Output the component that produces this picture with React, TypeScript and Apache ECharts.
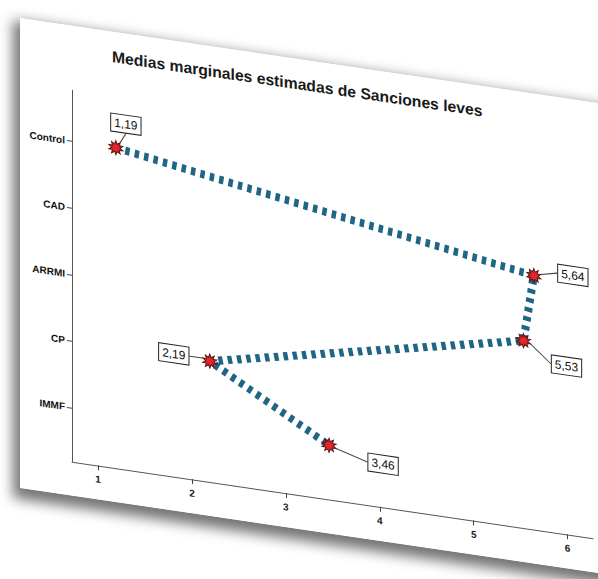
import React, { useEffect, useRef } from "react";
import * as echarts from "echarts";

const titleText = "Medias marginales estimadas de Sanciones leves";
const categories = ["Control", "CAD", "ARRMI", "CP", "IMMF"];
const means = [1.19, 5.64, 5.53, 2.19, 3.46];
const xTicks = [1, 2, 3, 4, 5, 6];
const yTicks = [1, 2, 3, 4, 5];

function starPath(points: number, outer: number, inner: number): string {
  let d = "path://";
  for (let i = 0; i < points * 2; i++) {
    const r = i % 2 === 0 ? outer : inner;
    const a = (Math.PI * i) / points - Math.PI / 2;
    const x = 50 + r * Math.cos(a);
    const y = 50 + r * Math.sin(a);
    d += (i === 0 ? "M" : "L") + x.toFixed(2) + " " + y.toFixed(2) + " ";
  }
  return d + "Z";
}

const labelShift = [
  [10, -25],
  [39, -6],
  [43, 19],
  [-36, -2],
  [54, 11],
];

export default function App() {
  const ref = useRef<HTMLDivElement>(null);
  useEffect(() => {
    if (!ref.current) return;
    const chart = echarts.init(ref.current, null, { renderer: "svg" });
    chart.setOption({
      animation: false,
      backgroundColor: "#ffffff",
      title: {
        text: titleText,
        left: 87,
        top: 12,
        textStyle: {
          fontFamily: "Liberation Sans, Arial, sans-serif",
          fontSize: 15.7,
          fontWeight: "bold",
          color: "#1a1a1a",
        },
      },
      grid: {
        left: 52,
        top: 64.5,
        width: 521,
        height: 371.3,
        containLabel: false,
        outerBoundsMode: "none",
      },
      xAxis: {
        type: "value",
        min: 0.723,
        max: 6.27,
        splitLine: { show: false },
        axisLine: { show: true, lineStyle: { color: "#555", width: 1 } },
        axisTick: {
          show: true,
          customValues: xTicks,
          length: 5,
          lineStyle: { color: "#444" },
        },
        axisLabel: {
          customValues: xTicks,
          formatter: (v: number) => String(v),
          fontFamily: "Liberation Sans, Arial, sans-serif",
          fontSize: 10,
          fontWeight: "bold",
          color: "#222",
          margin: 9,
        },
      },
      yAxis: {
        type: "value",
        inverse: true,
        min: 0.232,
        max: 5.81,
        splitLine: { show: false },
        axisLine: { show: true, lineStyle: { color: "#555", width: 1 } },
        axisTick: {
          show: true,
          customValues: yTicks,
          length: 5,
          lineStyle: { color: "#444" },
        },
        axisLabel: {
          customValues: yTicks,
          formatter: (v: number) => categories[Math.round(v) - 1] || "",
          fontFamily: "Liberation Sans, Arial, sans-serif",
          fontSize: 10,
          fontWeight: "bold",
          color: "#111",
          margin: 7,
        },
      },
      series: [
        {
          type: "line",
          data: means.map((m, i) => [m, i + 1]),
          symbol: starPath(10, 50, 28),
          symbolSize: 14,
          itemStyle: {
            color: "#e3262b",
            borderColor: "#5a1414",
            borderWidth: 1,
          },
          lineStyle: {
            color: "#1e6683",
            width: 8,
            type: [4.5, 5],
            cap: "butt",
          },
          z: 3,
          label: {
            show: true,
            position: "inside",
            formatter: (p: any) => means[p.dataIndex].toFixed(2).replace(".", ","),
            backgroundColor: "#ffffff",
            borderColor: "#222",
            borderWidth: 1,
            padding: [3, 3, 2, 3],
            fontFamily: "Liberation Sans Narrow, Liberation Sans, Arial, sans-serif",
            fontSize: 12,
            color: "#111",
          },
          labelLine: {
            show: true,
            lineStyle: { color: "#444", width: 1 },
          },
          labelLayout: (params: any) => {
            const s = labelShift[params.dataIndex] || [0, 0];
            return { dx: s[0], dy: s[1] };
          },
        },
      ],
    });
    return () => chart.dispose();
  }, []);

  return (
    <div
      style={{
        position: "fixed",
        left: 0,
        top: 0,
        width: 598,
        height: 579,
        overflow: "hidden",
        background: "#ffffff",
      }}
    >
      <div
        style={{
          position: "absolute",
          left: 20,
          top: 18,
          width: 640,
          height: 470,
          background: "#ffffff",
          transform: "skewY(8.36deg)",
          transformOrigin: "0 0",
          boxShadow: "-3px 7px 13px 4px rgba(0,0,0,0.55)",
        }}
      >
        <div ref={ref} style={{ width: 640, height: 470 }} />
      </div>
    </div>
  );
}
